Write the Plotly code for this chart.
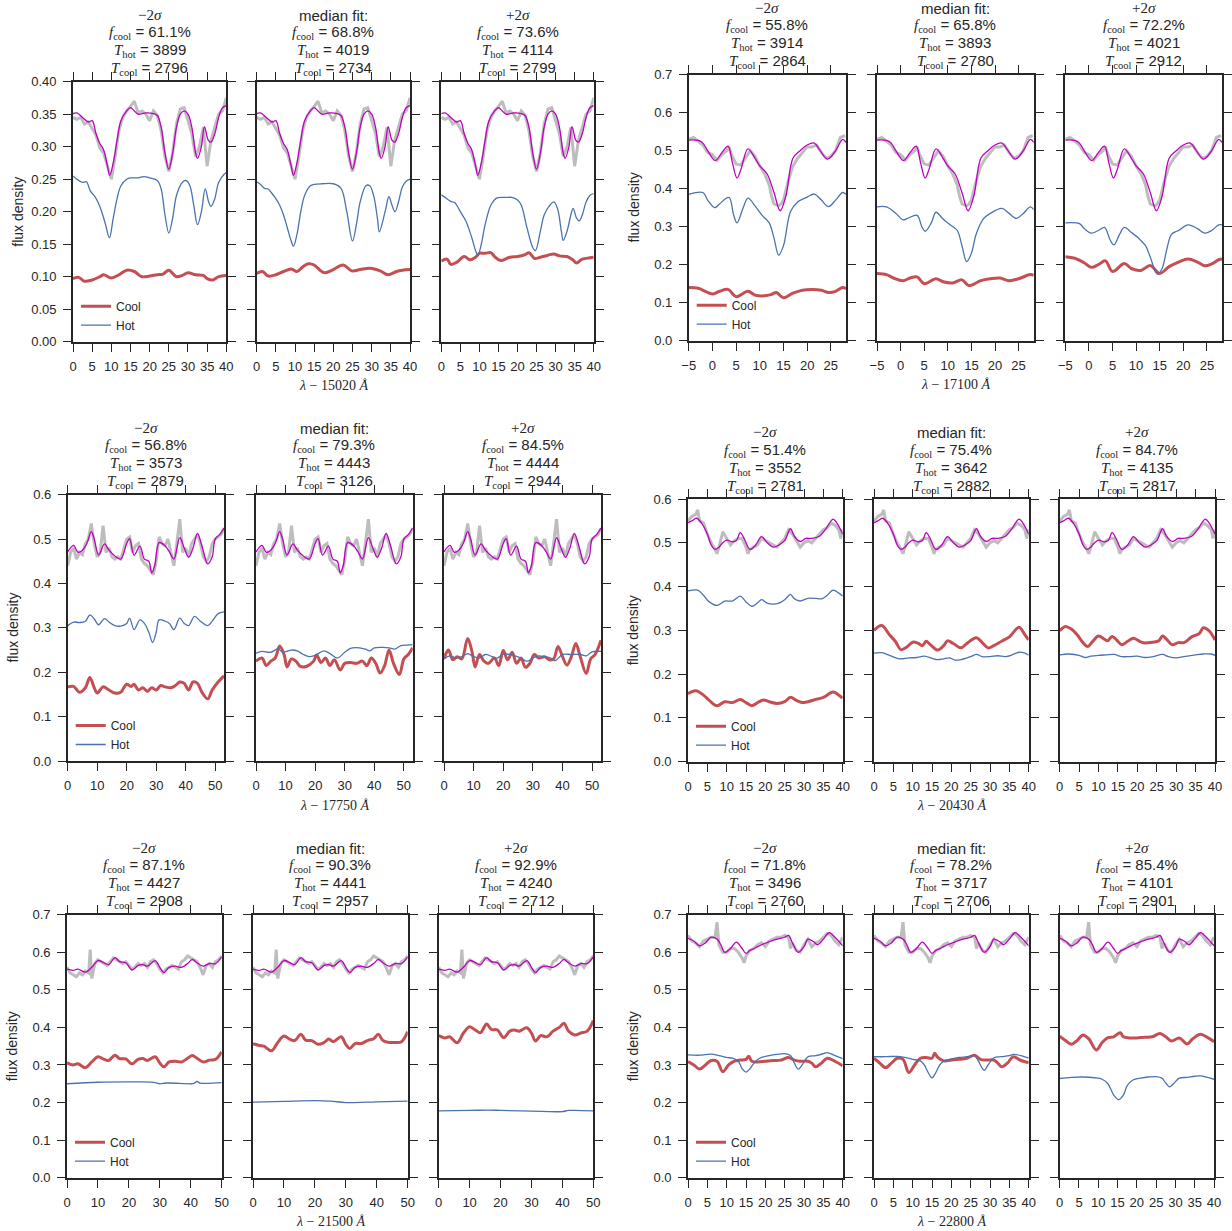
import plotly.graph_objects as go

W, H = 1232, 1231

# ---------------- text / labels ----------------
X_OFFSETS = ["15020", "17100", "17750", "20430", "21500", "22800"]
F_COOL = [["61.1", "68.8", "73.6"], ["55.8", "65.8", "72.2"], ["56.8", "79.3", "84.5"],
          ["51.4", "75.4", "84.7"], ["87.1", "90.3", "92.9"], ["71.8", "78.2", "85.4"]]
T_HOT = [[3899, 4019, 4114], [3914, 3893, 4021], [3573, 4443, 4444],
         [3552, 3642, 4135], [4427, 4441, 4240], [3496, 3717, 4101]]
T_COOL = [[2796, 2734, 2799], [2864, 2780, 2912], [2879, 3126, 2944],
          [2781, 2882, 2817], [2908, 2957, 2712], [2760, 2706, 2901]]
X_RANGES = [[0, 40], [-5, 28.2], [0, 53], [0, 40], [0, 50], [0, 40]]
Y_MAX = [0.40, 0.7, 0.6, 0.6, 0.7, 0.7]
Y_DTICK = [0.05, 0.1, 0.1, 0.1, 0.1, 0.1]
Y_FMT = [".2f", ".1f", ".1f", ".1f", ".1f", ".1f"]
X_DTICK = [5, 5, 10, 5, 10, 5]

# ---------------- group 1 (15020) ----------------
g1_data_x = list(range(0, 41))
g1_data_y = [0.345, 0.342, 0.345, 0.335, 0.338, 0.328, 0.318, 0.298, 0.29, 0.27,
             0.25, 0.285, 0.325, 0.345, 0.355, 0.362, 0.37, 0.352, 0.355, 0.35,
             0.34, 0.355, 0.348, 0.325, 0.285, 0.262, 0.29, 0.335, 0.358, 0.36,
             0.34, 0.32, 0.285, 0.3, 0.33, 0.27, 0.31, 0.33, 0.35, 0.355, 0.375]
g1_fit_x = [0, 1, 2.5, 4, 5, 6, 7, 8, 9, 9.6, 10.5, 11.5, 12.5, 14, 15, 16, 17, 19, 21, 22, 23, 24, 25,
            26, 27, 28, 29, 30, 31, 32, 32.5, 33.5, 34.3, 35.3, 36, 37, 38, 39, 40]
g1_fit_y = [0.351, 0.352, 0.345, 0.338, 0.34, 0.32, 0.305, 0.295, 0.27, 0.256, 0.275, 0.31, 0.34,
            0.355, 0.36, 0.355, 0.35, 0.352, 0.351, 0.348, 0.33, 0.29, 0.265, 0.29, 0.33, 0.35,
            0.355, 0.35, 0.33, 0.29, 0.282, 0.30, 0.331, 0.31, 0.307, 0.32, 0.345, 0.36, 0.363]
g1_hot_x = [
    [0, 1, 2.5, 3.5, 4.5, 5.5, 6.5, 7.5, 8.5, 9.5, 10.5, 11.5, 12.5, 14, 15, 17, 18.5, 20, 22, 23,
     24, 25, 26, 27, 28.5, 29.5, 30.5, 31.5, 32.5, 33.5, 34.5, 35.4, 36, 37, 38, 39.5, 40],
    [0, 1, 2, 3, 4, 5, 6, 7, 8, 9, 9.6, 10.5, 11.5, 12.5, 14, 15, 17, 20, 22, 23.5, 25, 26, 27,
     28.5, 29.5, 30.5, 31.5, 32, 33.5, 34.5, 35.3, 36.1, 37, 38, 39, 40],
    [0, 1, 2.5, 3.5, 5, 6.5, 8, 9, 9.6, 10.5, 11.5, 13, 14.5, 17, 18.5, 20, 21, 22.5, 24, 24.7,
     26, 27, 28.5, 29.5, 30.5, 31.5, 32, 33, 34, 34.6, 35.5, 36.2, 37, 38, 39, 40],
]
g1_hot_y = [
    [0.255, 0.25, 0.245, 0.246, 0.232, 0.225, 0.215, 0.2, 0.18, 0.16, 0.19, 0.22, 0.24, 0.25,
     0.252, 0.252, 0.254, 0.252, 0.248, 0.235, 0.195, 0.167, 0.19, 0.225, 0.245, 0.248, 0.24,
     0.21, 0.18, 0.2, 0.235, 0.215, 0.208, 0.22, 0.245, 0.258, 0.26],
    [0.246, 0.242, 0.236, 0.235, 0.228, 0.22, 0.21, 0.195, 0.175, 0.155, 0.147, 0.165, 0.2, 0.225,
     0.24, 0.242, 0.243, 0.243, 0.236, 0.2, 0.155, 0.18, 0.215, 0.24, 0.24, 0.225, 0.19, 0.169,
     0.2, 0.223, 0.21, 0.2, 0.215, 0.238, 0.247, 0.25],
    [0.226, 0.222, 0.216, 0.214, 0.2, 0.185, 0.16, 0.14, 0.133, 0.15, 0.18, 0.21, 0.221, 0.222,
     0.222, 0.218, 0.21, 0.175, 0.145, 0.14, 0.17, 0.195, 0.21, 0.215, 0.205, 0.17, 0.156, 0.17,
     0.195, 0.205, 0.19, 0.186, 0.195, 0.215, 0.225, 0.228],
]
g1_cool_x = [
    [0, 1.5, 3, 5, 7, 8, 10, 12, 14, 16, 18, 20, 22, 23.5, 25, 27, 28.5, 30, 32, 34, 35, 36.5, 38, 40],
    [0, 1.5, 3, 5, 7, 9, 10.5, 12, 13.5, 15, 16.5, 17.8, 20, 22.6, 24.8, 27, 29.6, 32.2, 34.3, 36.5, 38, 40],
    [0, 1.5, 2.5, 4, 6, 7.5, 9, 10, 11.5, 13, 14, 15.5, 18, 20, 22, 23, 24.5, 26, 28, 29.5, 31, 33,
     34.5, 35.5, 37, 39, 40],
]
g1_cool_y = [
    [0.097, 0.099, 0.093, 0.095, 0.100, 0.103, 0.098, 0.103, 0.110, 0.108, 0.100, 0.101, 0.103,
     0.104, 0.110, 0.100, 0.102, 0.106, 0.103, 0.102, 0.097, 0.095, 0.100, 0.102],
    [0.105, 0.108, 0.101, 0.103, 0.108, 0.112, 0.108, 0.115, 0.12, 0.118, 0.11, 0.106, 0.111,
     0.118, 0.109, 0.111, 0.113, 0.109, 0.103, 0.108, 0.11, 0.111],
    [0.124, 0.127, 0.119, 0.122, 0.131, 0.126, 0.13, 0.136, 0.136, 0.137, 0.131, 0.125, 0.13,
     0.131, 0.134, 0.137, 0.128, 0.13, 0.133, 0.135, 0.132, 0.131, 0.126, 0.121, 0.127, 0.129, 0.13],
]

# ---------------- group 2 (17100) ----------------
g2_data_x = [-5, -4, -3, -2, -1, 0, 1, 2, 3, 3.5, 4, 5, 6, 7, 8, 9, 10, 11, 12, 12.5, 13, 14, 14.5,
             15, 16, 17, 18, 19, 20, 21, 22, 23, 24, 25, 26, 27, 28]
g2_data_y = [0.53, 0.535, 0.525, 0.515, 0.495, 0.49, 0.475, 0.49, 0.5, 0.51, 0.49, 0.465, 0.462,
             0.48, 0.5, 0.485, 0.46, 0.44, 0.41, 0.38, 0.36, 0.355, 0.36, 0.37, 0.42, 0.46, 0.48,
             0.495, 0.51, 0.51, 0.515, 0.495, 0.48, 0.485, 0.5, 0.535, 0.54]
g2_fit_x = [-5, -3, -2, -1, 0.6, 2, 3.3, 4.2, 5.2, 6, 7.5, 9, 10, 11.5, 13, 14.3, 15.5, 17, 18.5,
            20, 21.5, 22.5, 24.3, 26, 27.5, 28.2]
g2_fit_y = [0.528, 0.527, 0.52, 0.50, 0.474, 0.495, 0.512, 0.47, 0.428, 0.45, 0.505, 0.48, 0.46,
            0.44, 0.39, 0.342, 0.38, 0.48, 0.50, 0.515, 0.52, 0.505, 0.478, 0.50, 0.53, 0.522]
g2_hot_x = [
    [-5, -2, -1, 0.5, 1.5, 3.5, 4.5, 5.2, 6.5, 7.5, 9, 10.5, 12, 13, 14, 15, 16.5, 18, 20, 21.5,
     23, 24.5, 26, 27.5, 28.2],
    [-5, -3, -1, 0.5, 1.5, 3.5, 4.5, 5.2, 6.5, 7.5, 9, 10.5, 12, 13, 14, 15, 16, 17.5, 19, 21.5,
     23, 24.5, 26, 27.5, 28.2],
    [-5, -2, -1, 0.5, 2, 3.3, 4.5, 5.3, 6.5, 7.5, 9, 10.5, 12, 13, 14.5, 15.5, 16.5, 17.5, 19,
     21, 23, 24.5, 26, 27.5, 28.2],
]
g2_hot_y = [
    [0.385, 0.39, 0.37, 0.35, 0.36, 0.377, 0.33, 0.31, 0.35, 0.375, 0.355, 0.33, 0.31, 0.27,
     0.225, 0.25, 0.34, 0.365, 0.378, 0.386, 0.37, 0.353, 0.37, 0.39, 0.385],
    [0.352, 0.352, 0.335, 0.318, 0.322, 0.33, 0.30, 0.288, 0.31, 0.338, 0.32, 0.305, 0.29, 0.25,
     0.208, 0.23, 0.28, 0.32, 0.335, 0.348, 0.335, 0.322, 0.335, 0.352, 0.345],
    [0.31, 0.308, 0.295, 0.283, 0.29, 0.298, 0.265, 0.252, 0.28, 0.298, 0.285, 0.27, 0.25, 0.22,
     0.175, 0.19, 0.24, 0.28, 0.29, 0.305, 0.295, 0.283, 0.29, 0.305, 0.305],
]
g2_cool_x = [
    [-5, -3, -1.5, 0, 1.5, 3.3, 5, 7.5, 9, 11, 12.5, 13.5, 15, 17, 19, 21, 23, 24.5, 26, 27.5, 28.2],
    [-5, -3, -1.5, 0.5, 2, 3.5, 5, 7.5, 9, 11, 13, 14.5, 17, 19, 21, 23, 25, 27.5, 28.2],
    [-5, -3, -1, 0.5, 2, 3.5, 5, 7.5, 9, 11, 13, 15, 17, 19, 21, 23, 24.5, 26, 27.5, 28.2],
]
g2_cool_y = [
    [0.14, 0.138, 0.13, 0.123, 0.13, 0.135, 0.116, 0.13, 0.12, 0.118, 0.122, 0.127, 0.113, 0.125,
     0.133, 0.135, 0.133, 0.127, 0.13, 0.14, 0.137],
    [0.177, 0.174, 0.165, 0.158, 0.165, 0.168, 0.15, 0.163, 0.155, 0.152, 0.16, 0.145, 0.158,
     0.163, 0.165, 0.158, 0.163, 0.174, 0.172],
    [0.221, 0.217, 0.205, 0.193, 0.2, 0.21, 0.182, 0.203, 0.19, 0.185, 0.198, 0.177, 0.195, 0.207,
     0.215, 0.207, 0.197, 0.202, 0.213, 0.215],
]

# ---------------- group 3 (17750) ----------------
g3_data_x = list(range(0, 54))
g3_data_y = [0.44, 0.47, 0.48, 0.455, 0.47, 0.465, 0.49, 0.5, 0.535, 0.49,
             0.46, 0.47, 0.53, 0.47, 0.48, 0.46, 0.455, 0.46, 0.455, 0.48,
             0.5, 0.505, 0.47, 0.485, 0.49, 0.455, 0.445, 0.44, 0.43, 0.42,
             0.45, 0.505, 0.49, 0.485, 0.5, 0.47, 0.44, 0.49, 0.545, 0.47,
             0.48, 0.46, 0.49, 0.5, 0.51, 0.49, 0.46, 0.45, 0.46, 0.49,
             0.5, 0.505, 0.51, 0.525]
g3_fit_x = [0, 2, 3.5, 5, 6.5, 8, 9, 10.5, 12.5, 14, 16, 18, 20, 21, 22.5, 24.5, 26, 27.5, 28.5,
            29.5, 31, 33, 34.5, 36, 38, 39.5, 41, 42.5, 44, 45.5, 47.5, 49, 50, 51.5, 53]
g3_fit_y = [0.471, 0.486, 0.47, 0.475, 0.49, 0.517, 0.50, 0.464, 0.489, 0.475, 0.462, 0.455, 0.49,
            0.501, 0.464, 0.484, 0.455, 0.45, 0.424, 0.44, 0.492, 0.485, 0.471, 0.455, 0.503, 0.48,
            0.459, 0.48, 0.513, 0.485, 0.444, 0.46, 0.50, 0.51, 0.525]
g3_hot_x = [
    [0, 2, 4, 6, 7.5, 9, 10.5, 12.5, 14, 16, 18, 20, 21, 22.5, 24.5, 26, 27.5, 28.8, 30, 31, 33,
     34.5, 36, 38, 39.5, 41, 43, 45, 47.5, 49, 51, 53],
    [0, 2, 5, 7.5, 9, 12, 14, 16, 18, 20, 23, 25, 27.5, 30, 32, 35, 37, 38.5, 40, 43, 45, 47, 49,
     51, 53],
    [0, 2, 4, 6, 8, 10, 12, 14, 16, 18, 20, 22, 24, 26, 28, 30, 32, 34, 36, 37.5, 40, 43, 46, 48,
     50, 53],
]
g3_hot_y = [
    [0.305, 0.313, 0.312, 0.315, 0.329, 0.32, 0.307, 0.321, 0.313, 0.305, 0.304, 0.31, 0.322,
     0.296, 0.318, 0.31, 0.29, 0.267, 0.29, 0.318, 0.315, 0.31, 0.296, 0.322, 0.31, 0.305, 0.326,
     0.315, 0.305, 0.315, 0.332, 0.336],
    [0.243, 0.247, 0.245, 0.253, 0.245, 0.25, 0.248, 0.24, 0.235, 0.238, 0.248, 0.242, 0.232,
     0.245, 0.254, 0.255, 0.252, 0.248, 0.255, 0.256, 0.255, 0.252, 0.26, 0.261, 0.262],
    [0.23, 0.237, 0.232, 0.235, 0.242, 0.235, 0.232, 0.24, 0.236, 0.232, 0.241, 0.24, 0.237,
     0.232, 0.225, 0.232, 0.237, 0.235, 0.232, 0.226, 0.24, 0.24, 0.24, 0.237, 0.246, 0.247],
]
g3_cool_x = [
    [0, 2, 4, 6, 7.5, 9, 10, 12, 14, 16, 18, 20, 21.5, 22.5, 24, 25.5, 27, 28.5, 30, 31.5, 33, 35,
     36.5, 38, 39.5, 41, 42.5, 44, 45.5, 47.5, 49, 51, 53],
    [0, 2, 3.5, 5, 6.5, 8, 9.5, 10.5, 12, 13.5, 15, 17, 19.5, 20.5, 22, 23.5, 25, 26.5, 28.5, 30,
     32, 34, 36, 37.5, 39, 40.5, 42, 43.5, 45, 46.5, 48.5, 50, 51.5, 53],
    [0, 1.5, 3, 4.5, 6, 8, 9.5, 10.5, 12, 13.5, 15, 17, 18.5, 20, 21.5, 23, 24.5, 26, 27.5, 29,
     30.5, 32, 34, 35.5, 37, 38.5, 40, 41.5, 43, 44.5, 46, 48, 49.5, 51, 53],
]
g3_cool_y = [
    [0.167, 0.168, 0.155, 0.165, 0.188, 0.165, 0.153, 0.167, 0.16, 0.153, 0.155, 0.173, 0.168,
     0.173, 0.16, 0.165, 0.157, 0.165, 0.16, 0.17, 0.167, 0.165, 0.17, 0.178, 0.175, 0.16, 0.178,
     0.175, 0.155, 0.14, 0.16, 0.178, 0.192],
    [0.225, 0.232, 0.215, 0.225, 0.232, 0.259, 0.24, 0.212, 0.23, 0.225, 0.213, 0.213, 0.225,
     0.239, 0.222, 0.232, 0.215, 0.228, 0.205, 0.22, 0.222, 0.22, 0.225, 0.215, 0.232, 0.22,
     0.198, 0.215, 0.25, 0.22, 0.195, 0.23, 0.24, 0.255],
    [0.231, 0.25, 0.228, 0.235, 0.23, 0.276, 0.245, 0.212, 0.24, 0.225, 0.22, 0.232, 0.215, 0.249,
     0.228, 0.245, 0.22, 0.232, 0.211, 0.22, 0.24, 0.232, 0.235, 0.228, 0.23, 0.258, 0.235, 0.216,
     0.235, 0.265, 0.235, 0.197, 0.23, 0.24, 0.272],
]

# ---------------- group 4 (20430) ----------------
g4_data_x = [0, 1, 2, 2.5, 3, 4, 5, 6, 7, 7.5, 8, 9, 10, 11, 12, 13, 14, 15, 15.5, 16, 17, 18, 19,
             20, 21, 22, 23, 24, 25, 26, 27, 28, 29, 30, 31, 32, 33, 34, 35, 36, 37, 38, 39, 39.5, 40]
g4_data_y = [0.55, 0.56, 0.565, 0.575, 0.55, 0.545, 0.52, 0.5, 0.485, 0.475,
             0.49, 0.525, 0.51, 0.495, 0.505, 0.51, 0.51, 0.49, 0.475, 0.485,
             0.49, 0.495, 0.51, 0.505, 0.5, 0.495, 0.49, 0.5, 0.51, 0.53,
             0.52, 0.505, 0.49, 0.5, 0.505, 0.5, 0.51, 0.52, 0.53, 0.535,
             0.545, 0.54, 0.53, 0.51, 0.53]
g4_fit_x = [0, 1, 2.2, 3.5, 5, 6, 7, 8, 9, 10, 11.5, 12.5, 13.5, 14.5, 16, 17.5, 19, 20.5, 22, 23.5,
            25, 26.5, 27.5, 29, 30.5, 32, 34, 35.5, 37.5, 38.5, 40]
g4_fit_y = [0.546, 0.55, 0.556, 0.545, 0.52, 0.495, 0.485, 0.49, 0.5, 0.506, 0.502, 0.505, 0.523,
            0.51, 0.485, 0.495, 0.514, 0.5, 0.49, 0.495, 0.505, 0.532, 0.515, 0.503, 0.51, 0.51,
            0.515, 0.53, 0.554, 0.545, 0.52]
g4_hot_x = [
    [0, 2.5, 4, 5.5, 7.5, 9.5, 11.5, 13.5, 15, 16.5, 18, 19, 20.5, 22, 23.5, 25, 26.5, 27.5, 29,
     31, 33, 34.5, 36, 37.5, 39, 40],
    [0, 2, 4, 6.5, 9, 11, 13, 15, 16.5, 18, 19.5, 21, 22.5, 25, 26.5, 28, 30, 32, 34, 36, 37.5,
     39, 40],
    [0, 2.5, 5, 6.5, 8, 10, 12, 14, 16, 18, 20, 22, 24, 26.5, 28, 30, 32, 35, 37, 39, 40],
]
g4_hot_y = [
    [0.39, 0.392, 0.38, 0.365, 0.357, 0.367, 0.367, 0.378, 0.365, 0.355, 0.363, 0.37, 0.362, 0.36,
     0.362, 0.37, 0.382, 0.372, 0.367, 0.373, 0.373, 0.372, 0.38, 0.392, 0.385, 0.378],
    [0.248, 0.249, 0.243, 0.235, 0.237, 0.238, 0.241, 0.236, 0.233, 0.235, 0.237, 0.232, 0.233,
     0.24, 0.245, 0.24, 0.24, 0.242, 0.24, 0.245, 0.25, 0.248, 0.243],
    [0.244, 0.246, 0.243, 0.238, 0.241, 0.243, 0.244, 0.245, 0.24, 0.24, 0.241, 0.238, 0.24,
     0.245, 0.24, 0.237, 0.24, 0.244, 0.246, 0.246, 0.243],
]
g4_cool_x = [
    [0, 2, 4, 5.5, 7.5, 9.5, 11.5, 13.5, 15, 16.5, 18, 19.5, 21, 23, 25, 26.5, 28, 29.5, 31, 33,
     35, 37.5, 39, 40],
    [0, 2, 4, 5.5, 7, 8.5, 10, 11.5, 12.5, 13.5, 14.5, 16.5, 18, 19, 20.5, 22.5, 24, 26.5, 28,
     29.5, 31, 33, 35, 37.5, 39, 40],
    [0, 1.5, 3, 4.5, 6, 7.2, 8.5, 10, 11.5, 12.3, 13.5, 15, 16, 17.5, 19, 21, 22, 24, 25.5, 26.5,
     27.5, 29, 30.5, 32, 34, 36, 37, 38.5, 40],
]
g4_cool_y = [
    [0.155, 0.162, 0.152, 0.14, 0.128, 0.137, 0.135, 0.142, 0.135, 0.128, 0.135, 0.141, 0.137,
     0.133, 0.137, 0.147, 0.14, 0.135, 0.137, 0.142, 0.147, 0.159, 0.152, 0.145],
    [0.3, 0.311, 0.29, 0.275, 0.256, 0.262, 0.273, 0.27, 0.265, 0.275, 0.268, 0.255, 0.265, 0.276,
     0.27, 0.26, 0.27, 0.283, 0.272, 0.26, 0.265, 0.275, 0.285, 0.307, 0.29, 0.278],
    [0.299, 0.309, 0.303, 0.29, 0.272, 0.263, 0.275, 0.287, 0.28, 0.276, 0.286, 0.275, 0.267,
     0.275, 0.282, 0.273, 0.271, 0.273, 0.276, 0.287, 0.28, 0.267, 0.272, 0.272, 0.285, 0.293,
     0.306, 0.299, 0.278],
]

# ---------------- group 5 (21500) ----------------
g5_data_x = [0, 1, 2, 3, 4, 5, 6, 7, 7.5] + list(range(8, 51))
g5_data_y = [0.56, 0.545, 0.54, 0.535, 0.545, 0.54, 0.55, 0.545, 0.607,
             0.53, 0.57, 0.58, 0.575, 0.57, 0.565, 0.575, 0.585, 0.58, 0.575,
             0.57, 0.575, 0.565, 0.555, 0.56, 0.57, 0.565, 0.57, 0.56, 0.575,
             0.58, 0.57, 0.555, 0.545, 0.555, 0.56, 0.565, 0.56, 0.555, 0.575,
             0.58, 0.59, 0.585, 0.58, 0.575, 0.56, 0.54, 0.565, 0.57, 0.56,
             0.575, 0.58, 0.59]
g5_fit_x = [0, 2, 3.5, 6, 8, 10, 12, 13.5, 15.5, 17, 19, 21, 23, 24.5, 26, 28.5, 30, 31.3, 33, 35,
            37, 39, 40.5, 42, 44, 46, 48, 50]
g5_fit_y = [0.555, 0.552, 0.555, 0.547, 0.56, 0.578, 0.572, 0.567, 0.586, 0.575, 0.572, 0.553,
            0.565, 0.567, 0.563, 0.578, 0.56, 0.546, 0.56, 0.563, 0.56, 0.57, 0.581, 0.572, 0.563,
            0.57, 0.57, 0.588]
g5_hot_x = [
    [0, 10, 20, 28, 30, 32, 40, 41, 42, 43, 50],
    [0, 10, 20, 25, 30, 40, 50],
    [0, 10, 16, 20, 30, 40, 42, 50],
]
g5_hot_y = [
    [0.25, 0.254, 0.255, 0.254, 0.25, 0.252, 0.25, 0.251, 0.256, 0.252, 0.253],
    [0.201, 0.203, 0.205, 0.204, 0.2, 0.202, 0.204],
    [0.178, 0.179, 0.18, 0.179, 0.177, 0.176, 0.179, 0.178],
]
g5_cool_x = [
    [0, 2, 3.5, 6, 8, 10, 12, 13.5, 15.5, 17, 19, 21, 23, 24.5, 26, 28.5, 30, 31.3, 33, 35, 37, 39,
     40.5, 42, 44, 46, 48, 50],
    [0, 2, 3.5, 6, 8, 10, 12, 13.5, 15.5, 17, 19, 21, 23, 24.5, 26, 28.5, 30, 31.3, 33, 35, 37, 39,
     40.5, 42, 44, 46, 48, 50],
    [0, 2, 3.5, 6, 8, 10, 12, 13.5, 15.5, 17, 19, 21, 23, 24.5, 26, 28.5, 30, 31.3, 33, 35, 37, 39,
     40.5, 42, 44, 46, 48, 50],
]
g5_cool_y = [
    [0.306, 0.3, 0.303, 0.293, 0.308, 0.322, 0.315, 0.312, 0.326, 0.317, 0.316, 0.303, 0.315,
     0.317, 0.312, 0.322, 0.305, 0.295, 0.308, 0.31, 0.308, 0.318, 0.325, 0.318, 0.308, 0.313,
     0.315, 0.335],
    [0.357, 0.352, 0.35, 0.338, 0.36, 0.377, 0.368, 0.365, 0.382, 0.366, 0.365, 0.355, 0.36,
     0.369, 0.362, 0.375, 0.355, 0.344, 0.357, 0.357, 0.365, 0.37, 0.382, 0.365, 0.36, 0.36,
     0.362, 0.389],
    [0.378, 0.372, 0.375, 0.359, 0.385, 0.402, 0.392, 0.386, 0.409, 0.395, 0.393, 0.373, 0.39,
     0.393, 0.39, 0.399, 0.385, 0.364, 0.378, 0.375, 0.39, 0.4, 0.411, 0.39, 0.38, 0.385, 0.39,
     0.418],
]

# ---------------- group 6 (22800) ----------------
g6_data_x = [0, 1, 2, 3, 4, 5, 6, 7, 7.5, 8, 9, 10, 11, 12, 13, 14, 14.5] + list(range(15, 27)) + \
            [26.5] + list(range(27, 41))
g6_data_y = [0.645, 0.63, 0.625, 0.615, 0.63, 0.635, 0.64, 0.64, 0.68,
             0.62, 0.6, 0.6, 0.61, 0.61, 0.6, 0.585, 0.572,
             0.59, 0.605, 0.61, 0.62, 0.625, 0.615, 0.63, 0.635, 0.64, 0.64, 0.645, 0.64,
             0.61,
             0.625, 0.605, 0.6, 0.62, 0.635, 0.615, 0.625, 0.63, 0.64, 0.65, 0.645, 0.63, 0.62, 0.64]
g6_fit_x = [0, 1.5, 3, 4.5, 6, 7.5, 8.5, 9.5, 11, 12.5, 14, 15, 16, 17.5, 19, 21, 23, 25, 26, 27,
            28.5, 30, 31, 32.5, 33.5, 35, 36.5, 38, 40]
g6_fit_y = [0.637, 0.63, 0.617, 0.625, 0.64, 0.635, 0.62, 0.6, 0.61, 0.627, 0.61, 0.597, 0.605,
            0.612, 0.62, 0.628, 0.635, 0.64, 0.645, 0.625, 0.6, 0.615, 0.635, 0.628, 0.62, 0.635,
            0.652, 0.64, 0.617]
g6_hot_x = [
    [0, 3, 6, 8, 10, 11.5, 13, 14, 15, 16, 17.5, 19, 21, 23, 25, 26.5, 27.5, 28.5, 29.5, 31, 33,
     35, 36, 38, 40],
    [0, 3, 6, 8, 10, 12, 13, 14, 15, 16, 17, 18, 20, 22, 24, 26, 27, 28.5, 29.5, 31, 33, 35, 36,
     38, 40],
    [0, 3, 6, 9, 11, 12.5, 14, 15.3, 16.5, 17.5, 19, 21, 23, 25, 26.5, 27.5, 28.5, 29.5, 31, 33,
     35, 36.5, 38, 40],
]
g6_hot_y = [
    [0.327, 0.326, 0.329, 0.325, 0.32, 0.318, 0.31, 0.29, 0.281, 0.29, 0.31, 0.32, 0.325, 0.328,
     0.33, 0.325, 0.305, 0.289, 0.3, 0.322, 0.325, 0.33, 0.333, 0.325, 0.317],
    [0.322, 0.322, 0.323, 0.32, 0.315, 0.311, 0.3, 0.28, 0.266, 0.28, 0.3, 0.31, 0.316, 0.32,
     0.322, 0.325, 0.31, 0.286, 0.3, 0.319, 0.322, 0.325, 0.328, 0.325, 0.318],
    [0.264, 0.267, 0.268, 0.266, 0.262, 0.25, 0.22, 0.208, 0.22, 0.245, 0.26, 0.265, 0.268, 0.269,
     0.265, 0.252, 0.242, 0.25, 0.265, 0.267, 0.27, 0.271, 0.268, 0.262],
]
g6_cool_x = [
    [0, 1.5, 3, 4.5, 6, 7.5, 9, 10.5, 12, 13.5, 15, 15.7, 16.5, 18, 20, 22, 24, 26, 27.5, 29, 31,
     32, 33, 34.5, 36, 38, 40],
    [0, 1.5, 3, 4.5, 6, 7.5, 9, 10.5, 12, 13.5, 15, 15.7, 16.5, 18, 20, 22, 24, 26, 27.5, 29, 31,
     32, 33, 34.5, 36, 38, 40],
    [0, 1.5, 3, 4.5, 6, 7.5, 9.5, 11, 12.5, 14, 15.7, 16.5, 18, 20, 22, 24, 26, 27.5, 29, 31, 33,
     34.5, 36.5, 38.5, 40],
]
g6_cool_y = [
    [0.309, 0.3, 0.289, 0.3, 0.312, 0.31, 0.282, 0.3, 0.31, 0.313, 0.315, 0.323, 0.31, 0.308,
     0.31, 0.312, 0.313, 0.32, 0.313, 0.31, 0.31, 0.305, 0.295, 0.305, 0.318, 0.31, 0.298],
    [0.318, 0.305, 0.293, 0.305, 0.318, 0.315, 0.28, 0.3, 0.318, 0.32, 0.318, 0.331, 0.32, 0.311,
     0.313, 0.315, 0.318, 0.326, 0.315, 0.313, 0.313, 0.305, 0.295, 0.305, 0.322, 0.312, 0.306],
    [0.377, 0.365, 0.355, 0.365, 0.38, 0.37, 0.34, 0.36, 0.373, 0.375, 0.386, 0.375, 0.372, 0.372,
     0.374, 0.375, 0.384, 0.375, 0.364, 0.372, 0.356, 0.37, 0.382, 0.372, 0.362],
]

GROUPS = [
    (g1_data_x, g1_data_y, g1_fit_x, g1_fit_y, g1_hot_x, g1_hot_y, g1_cool_x, g1_cool_y),
    (g2_data_x, g2_data_y, g2_fit_x, g2_fit_y, g2_hot_x, g2_hot_y, g2_cool_x, g2_cool_y),
    (g3_data_x, g3_data_y, g3_fit_x, g3_fit_y, g3_hot_x, g3_hot_y, g3_cool_x, g3_cool_y),
    (g4_data_x, g4_data_y, g4_fit_x, g4_fit_y, g4_hot_x, g4_hot_y, g4_cool_x, g4_cool_y),
    (g5_data_x, g5_data_y, g5_fit_x, g5_fit_y, g5_hot_x, g5_hot_y, g5_cool_x, g5_cool_y),
    (g6_data_x, g6_data_y, g6_fit_x, g6_fit_y, g6_hot_x, g6_hot_y, g6_cool_x, g6_cool_y),
]

# ---------------- layout geometry (pixels) ----------------
BOX_X = [
    [(73, 226.3), (256.7, 410), (441.3, 593.7)],
    [(688.7, 846), (877, 1033.7), (1065.3, 1222)],
    [(67.7, 224), (256, 412.7), (444, 601)],
    [(688, 842.7), (874, 1028.7), (1059.7, 1215)],
    [(67, 221.7), (253, 407.7), (438.7, 593.3)],
    [(688, 842.7), (874, 1028.7), (1059.7, 1214)],
]
BOX_Y = [(81.7, 341.7), (74.7, 340.7), (494.7, 761), (499, 761.7), (914.7, 1177.7), (914.7, 1177.7)]

INK = "#262626"
RED = "#C44E52"
BLUE = "#4C72B0"
MAG = "rgb(191,0,191)"
GRAY = "#BDBDBD"
SANS = "Liberation Sans, Arial, sans-serif"
SERIF = "Liberation Serif, DejaVu Serif, serif"


def px_x(v):
    return v / W


def px_y(v):
    return 1 - v / H


fig = go.Figure()
layout = dict(
    width=W, height=H, margin=dict(l=0, r=0, t=0, b=0, pad=0, autoexpand=False),
    paper_bgcolor="white", plot_bgcolor="white",
    font=dict(family=SANS, size=13, color=INK),
)
annotations = []
SER = '<span style="font-family:Liberation Serif, serif">'
LINE_OFFS = [-48.8, -30.9, -13.0]

for g in range(6):
    data_x, data_y, fit_x, fit_y, hot_x, hot_y, cool_x, cool_y = GROUPS[g]
    top, bot = BOX_Y[g]
    legend_name = "legend" if g == 0 else f"legend{g + 1}"
    for p in range(3):
        k = g * 3 + p + 1
        xa = "x" if k == 1 else f"x{k}"
        ya = "y" if k == 1 else f"y{k}"
        x0, x1 = BOX_X[g][p]
        fig.add_trace(go.Scatter(x=data_x, y=data_y, mode="lines", xaxis=xa, yaxis=ya,
                                 line=dict(color=GRAY, width=3), showlegend=False, hoverinfo="skip"))
        fig.add_trace(go.Scatter(x=fit_x, y=fit_y, mode="lines", xaxis=xa, yaxis=ya,
                                 line=dict(color=MAG, width=1.3, shape="spline", smoothing=1.0),
                                 showlegend=False))
        fig.add_trace(go.Scatter(x=cool_x[p], y=cool_y[p], mode="lines", xaxis=xa, yaxis=ya,
                                 name="Cool", legend=legend_name,
                                 line=dict(color=RED, width=3, shape="spline", smoothing=1.0),
                                 showlegend=(p == 0)))
        fig.add_trace(go.Scatter(x=hot_x[p], y=hot_y[p], mode="lines", xaxis=xa, yaxis=ya,
                                 name="Hot", legend=legend_name,
                                 line=dict(color=BLUE, width=1.3, shape="spline", smoothing=1.0),
                                 showlegend=(p == 0)))
        common = dict(showline=True, mirror="ticks", linecolor=INK, linewidth=1.6,
                      ticks="outside", ticklen=8, tickwidth=1.2, tickcolor=INK,
                      showgrid=False, zeroline=False, automargin=False,
                      ticklabelstandoff=4,
                      tickfont=dict(size=13, color=INK))
        layout["xaxis" if k == 1 else f"xaxis{k}"] = dict(
            common, domain=[px_x(x0), px_x(x1)], anchor=ya, range=X_RANGES[g],
            dtick=X_DTICK[g], tick0=0)
        layout["yaxis" if k == 1 else f"yaxis{k}"] = dict(
            common, domain=[px_y(bot), px_y(top)], anchor=xa, range=[0, Y_MAX[g]],
            dtick=Y_DTICK[g], tick0=0, tickformat=Y_FMT[g], showticklabels=(p == 0))
        # panel titles
        cx = px_x((x0 + x1) / 2)
        head = ["−2<i>σ</i>", "median fit:", "+2<i>σ</i>"][p]
        annotations.append(dict(text=head, x=cx, y=px_y(top - 66.5), xref="paper", yref="paper",
                                showarrow=False, xanchor="center", yanchor="middle",
                                font=dict(family=SANS if p == 1 else SERIF, size=15, color=INK)))
        lines = [
            f'{SER}<i>f</i><sub>cool</sub></span> = {F_COOL[g][p]}%',
            f'{SER}<i>T</i><sub>hot</sub></span> = {T_HOT[g][p]}',
            f'{SER}<i>T</i><sub>cool</sub></span> = {T_COOL[g][p]}',
        ]
        for i, t in enumerate(lines):
            annotations.append(dict(text=t, x=cx, y=px_y(top + LINE_OFFS[i]), xref="paper",
                                    yref="paper", showarrow=False, xanchor="center",
                                    yanchor="middle",
                                    font=dict(family=SANS, size=15, color=INK)))
    # axis labels
    lx0 = BOX_X[g][0][0]
    mx = (BOX_X[g][1][0] + BOX_X[g][1][1]) / 2
    annotations.append(dict(text="flux density", x=px_x(lx0 - 55), y=px_y((top + bot) / 2),
                            xref="paper", yref="paper", showarrow=False, textangle=-90,
                            xanchor="center", yanchor="middle",
                            font=dict(family=SANS, size=14, color=INK)))
    annotations.append(dict(text=f"<i>λ</i> − {X_OFFSETS[g]} <i>Å</i>", x=px_x(mx), y=px_y(bot + 44),
                            xref="paper", yref="paper", showarrow=False, xanchor="center",
                            yanchor="middle",
                            font=dict(family=SERIF, size=14, color=INK)))
    layout[legend_name] = dict(x=px_x(lx0 + 3), y=px_y(bot - 50), xanchor="left", yanchor="top",
                               bgcolor="rgba(0,0,0,0)", font=dict(family=SANS, size=12, color=INK),
                               itemwidth=30, tracegroupgap=0)

layout["annotations"] = annotations
fig.update_layout(**layout)
fig.write_html("out.html", config={"displayModeBar": False},
               post_script="document.body.style.margin='0';document.body.style.padding='0';"
                           "document.documentElement.style.overflow='hidden';")
